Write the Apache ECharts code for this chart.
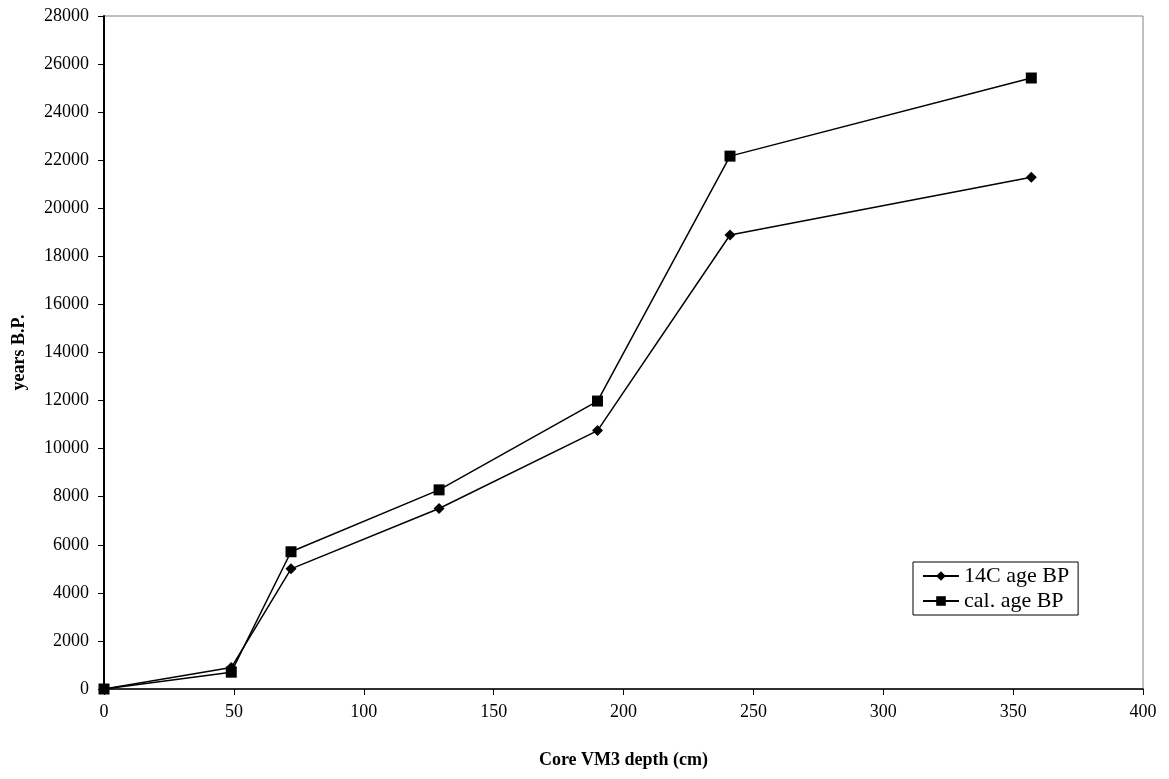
<!DOCTYPE html>
<html>
<head>
<meta charset="utf-8">
<script src="https://cdn.jsdelivr.net/npm/echarts@6/dist/echarts.min.js"></script>
<style>
  html, body { margin: 0; padding: 0; background: #fff; }
  #main { width: 1169px; height: 779px; }
</style>
</head>
<body>
<div id="main"></div>
<script>
// depth (cm) and ages (years B.P.)
var depth = [0, 49, 72, 129, 190, 241, 357];
var age14C = [0, 890, 5000, 7510, 10750, 18890, 21290];
var calAge = [0, 700, 5710, 8285, 11980, 22170, 25420];

function pairs(xs, ys) {
    return xs.map(function (x, i) { return [x, ys[i]]; });
}

var fontName = 'Liberation Serif';
var myChart = echarts.init(document.getElementById('main'));
var option = {
    animation: false,
    textStyle: { fontFamily: fontName },
    grid: {
        left: 104, top: 16, right: 26, bottom: 90,
        show: true, borderColor: '#808080', borderWidth: 1
    },
    legend: {
        orient: 'vertical',
        left: 913, top: 562,
        padding: [3, 9, 3, 9],
        itemGap: 3,
        itemWidth: 36, itemHeight: 12,
        borderColor: '#000', borderWidth: 1,
        textStyle: { fontFamily: fontName, fontSize: 22, color: '#000' },
        data: ['14C age BP', 'cal. age BP']
    },
    xAxis: {
        type: 'value',
        min: 0, max: 400, interval: 50,
        name: 'Core VM3 depth (cm)',
        nameLocation: 'middle',
        nameGap: 62,
        nameTextStyle: { fontFamily: fontName, fontSize: 18, fontWeight: 'bold', color: '#000' },
        axisLine: { lineStyle: { color: '#000', width: 1.5 } },
        axisTick: { show: true, length: 6, lineStyle: { color: '#000' } },
        axisLabel: { margin: 14, fontFamily: fontName, fontSize: 18, color: '#000' },
        splitLine: { show: false }
    },
    yAxis: {
        type: 'value',
        min: 0, max: 28000, interval: 2000,
        name: 'years B.P.',
        nameLocation: 'middle',
        nameGap: 76,
        nameTextStyle: { fontFamily: fontName, fontSize: 18, fontWeight: 'bold', color: '#000' },
        axisLine: { show: true, lineStyle: { color: '#000', width: 2 } },
        axisTick: { show: true, length: 6, lineStyle: { color: '#000' } },
        axisLabel: {
            margin: 15, fontFamily: fontName, fontSize: 18, color: '#000',
            formatter: function (v) { return String(v); }
        },
        splitLine: { show: false }
    },
    series: [
        {
            name: '14C age BP',
            type: 'line',
            data: pairs(depth, age14C),
            symbol: 'diamond',
            symbolSize: 11,
            itemStyle: { color: '#000' },
            lineStyle: { color: '#000', width: 1.5 }
        },
        {
            name: 'cal. age BP',
            type: 'line',
            data: pairs(depth, calAge),
            symbol: 'rect',
            symbolSize: 11,
            itemStyle: { color: '#000' },
            lineStyle: { color: '#000', width: 1.5 }
        }
    ]
};
myChart.setOption(option);
</script>
</body>
</html>
